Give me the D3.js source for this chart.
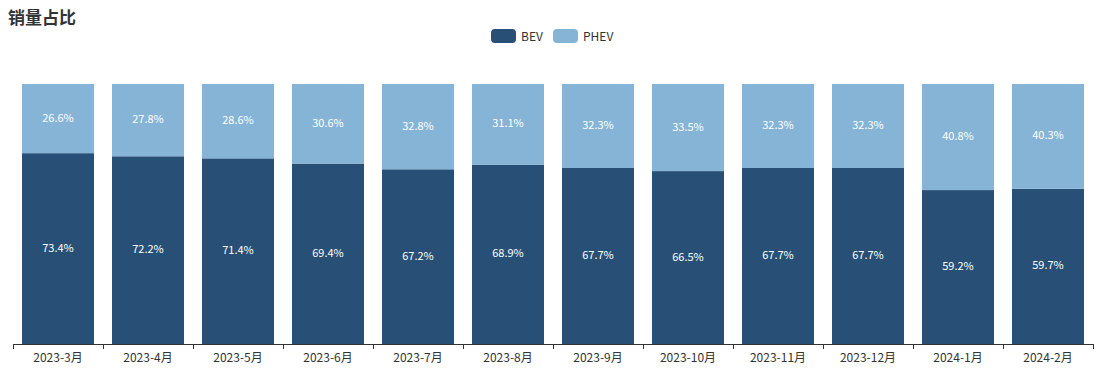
<!DOCTYPE html>
<html><head><meta charset="utf-8">
<script src="https://cdn.jsdelivr.net/npm/d3@7/dist/d3.min.js"></script>
<style>
html,body{margin:0;padding:0;background:#fff;}
svg{display:block;font-family:"Noto Sans CJK SC","Noto Sans",sans-serif;}
</style></head>
<body><svg id="c" width="1109" height="386"></svg>
<script>
const categories = ["2023-3月","2023-4月","2023-5月","2023-6月","2023-7月","2023-8月","2023-9月","2023-10月","2023-11月","2023-12月","2024-1月","2024-2月"];
const bevValues = [73.4,72.2,71.4,69.4,67.2,68.9,67.7,66.5,67.7,67.7,59.2,59.7];
const phevValues = [26.6,27.8,28.6,30.6,32.8,31.1,32.3,33.5,32.3,32.3,40.8,40.3];
const seriesNames = ["BEV","PHEV"];
const colors = ["#284f75","#86b4d6"];

(function(){
const svg = d3.select("#c");
const pL = 13, pR = 1093, pT = 84, pB = 344;
const x = d3.scaleBand().domain(categories).range([pL,pR]).paddingInner(0.2).paddingOuter(0.1);
const y = d3.scaleLinear().domain([0,100]).range([pB,pT]);

const rows = categories.map((c,i)=>({cat:c, BEV:bevValues[i], PHEV:phevValues[i]}));
const stack = d3.stack().keys(seriesNames)(rows);

const g = svg.append("g");
stack.forEach((layer,li)=>{
  const lg = g.append("g");
  lg.selectAll("rect").data(layer).join("rect")
    .attr("x", d=>x(d.data.cat))
    .attr("width", x.bandwidth())
    .attr("y", d=>y(d[1]))
    .attr("height", d=>y(d[0])-y(d[1]))
    .attr("fill", colors[li]);
  lg.selectAll("text").data(layer).join("text")
    .attr("x", d=>x(d.data.cat)+x.bandwidth()/2)
    .attr("y", d=>(y(d[0])+y(d[1]))/2 - 2)
    .attr("text-anchor","middle")
    .attr("dominant-baseline","central")
    .attr("fill","#fff")
    .attr("font-size",11)
    .text(d=>(d[1]-d[0]).toFixed(1)+"%");
});

const xb = d3.scaleBand().domain(categories).range([pL,pR]);
const ax = svg.append("g").attr("transform",`translate(0,${pB})`);
ax.append("line").attr("x1",pL).attr("x2",pR).attr("y1",0.5).attr("y2",0.5).attr("stroke","#333");
const tickPos = categories.map(c=>xb(c)).concat([pR]);
ax.selectAll("line.t").data(tickPos).join("line").attr("class","t")
  .attr("x1",d=>Math.round(d)+0.5).attr("x2",d=>Math.round(d)+0.5).attr("y1",0).attr("y2",5).attr("stroke","#333");
ax.selectAll("text").data(categories).join("text")
  .attr("x",d=>xb(d)+xb.bandwidth()/2).attr("y",12)
  .attr("text-anchor","middle").attr("dominant-baseline","central")
  .attr("font-size",12).attr("fill","#333").text(d=>d);

svg.append("text").attr("x",8).attr("y",16).attr("dominant-baseline","central")
  .attr("font-size",17).attr("font-weight","bold").attr("fill","#333").text("销量占比");

const legX = [491,553];
seriesNames.forEach((n,i)=>{
  svg.append("rect").attr("x",legX[i]).attr("y",29).attr("width",25).attr("height",14).attr("rx",4).attr("fill",colors[i]);
  svg.append("text").attr("x",legX[i]+30).attr("y",35).attr("dominant-baseline","central")
    .attr("font-size",12).attr("fill","#333").text(n);
});
})();
</script></body></html>
